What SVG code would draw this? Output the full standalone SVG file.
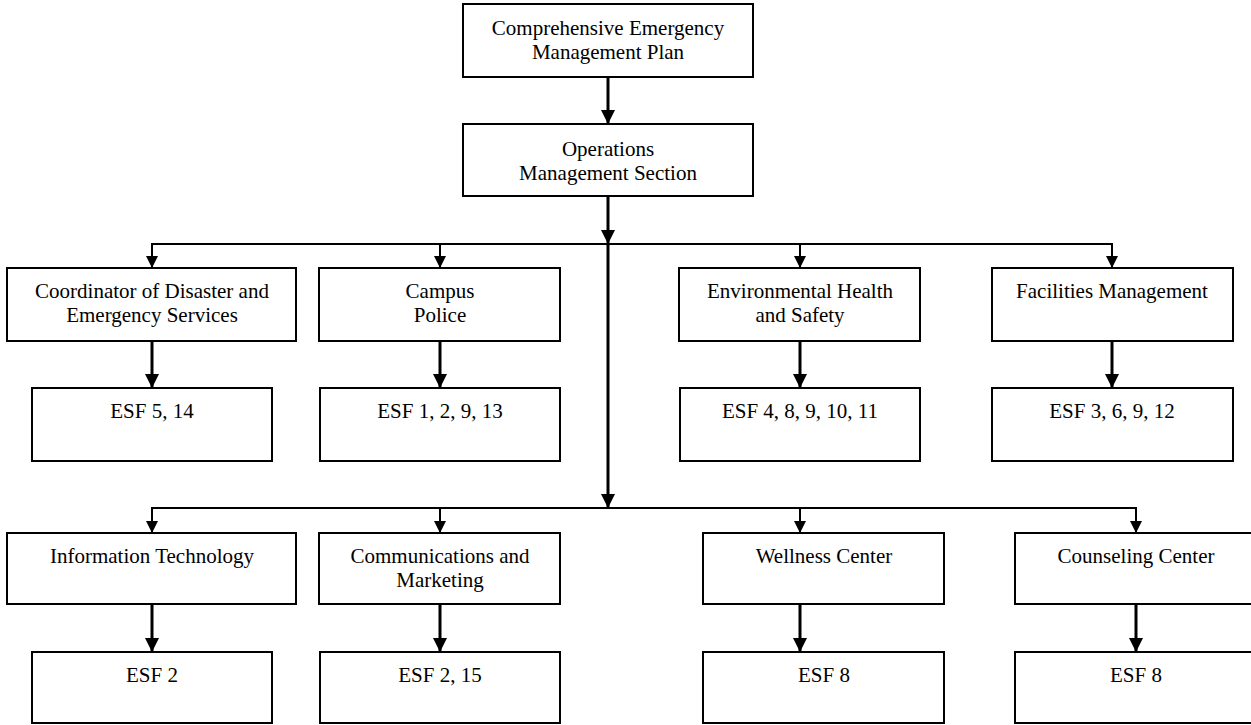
<svg xmlns="http://www.w3.org/2000/svg" width="1251" height="725" viewBox="0 0 1251 725">
<style>
.box{fill:#fff;stroke:#000;stroke-width:2}
.t{font-family:"Liberation Serif","Times New Roman",serif;font-size:21px;fill:#000;text-anchor:middle}
.thick{stroke:#000;stroke-width:3;fill:none}
.thin{stroke:#000;stroke-width:2;fill:none}
</style>
<defs>
<marker id="ab" markerUnits="userSpaceOnUse" markerWidth="16" markerHeight="16" refX="14" refY="7" orient="auto"><path d="M0,0 L14,7 L0,14 Z" fill="#000"/></marker>
<marker id="as" markerUnits="userSpaceOnUse" markerWidth="14" markerHeight="14" refX="12" refY="6" orient="auto"><path d="M0,0 L12,6 L0,12 Z" fill="#000"/></marker>
</defs>
<rect width="1251" height="725" fill="#fff"/>
<g id="connectors">
<line class="thick" x1="608" y1="77" x2="608" y2="124" marker-end="url(#ab)"/>
<line class="thick" x1="608" y1="196" x2="608" y2="244" marker-end="url(#ab)"/>
<line class="thin" x1="151" y1="244" x2="1113" y2="244"/>
<line class="thin" x1="152" y1="244" x2="152" y2="268" marker-end="url(#as)"/>
<line class="thin" x1="440" y1="244" x2="440" y2="268" marker-end="url(#as)"/>
<line class="thin" x1="800" y1="244" x2="800" y2="268" marker-end="url(#as)"/>
<line class="thin" x1="1112" y1="244" x2="1112" y2="268" marker-end="url(#as)"/>
<line class="thick" x1="608" y1="244" x2="608" y2="508" marker-end="url(#ab)"/>
<line class="thin" x1="151" y1="508" x2="1137" y2="508"/>
<line class="thin" x1="152" y1="508" x2="152" y2="533" marker-end="url(#as)"/>
<line class="thin" x1="440" y1="508" x2="440" y2="533" marker-end="url(#as)"/>
<line class="thin" x1="800" y1="508" x2="800" y2="533" marker-end="url(#as)"/>
<line class="thin" x1="1136" y1="508" x2="1136" y2="533" marker-end="url(#as)"/>
<line class="thick" x1="152" y1="341" x2="152" y2="388" marker-end="url(#ab)"/>
<line class="thick" x1="440" y1="341" x2="440" y2="388" marker-end="url(#ab)"/>
<line class="thick" x1="800" y1="341" x2="800" y2="388" marker-end="url(#ab)"/>
<line class="thick" x1="1112" y1="341" x2="1112" y2="388" marker-end="url(#ab)"/>
<line class="thick" x1="152" y1="604" x2="152" y2="652" marker-end="url(#ab)"/>
<line class="thick" x1="440" y1="604" x2="440" y2="652" marker-end="url(#ab)"/>
<line class="thick" x1="800" y1="604" x2="800" y2="652" marker-end="url(#ab)"/>
<line class="thick" x1="1136" y1="604" x2="1136" y2="652" marker-end="url(#ab)"/>
</g>
<g id="cemp"><rect class="box" x="463" y="4" width="290" height="73"/><text class="t" x="608" y="35">Comprehensive Emergency</text><text class="t" x="608" y="59">Management Plan</text></g>
<g id="oms"><rect class="box" x="463" y="124" width="290" height="72"/><text class="t" x="608" y="156">Operations</text><text class="t" x="608" y="180">Management Section</text></g>
<g id="coord"><rect class="box" x="7" y="268" width="289" height="73"/><text class="t" x="152" y="298">Coordinator of Disaster and</text><text class="t" x="152" y="322">Emergency Services</text></g>
<g id="police"><rect class="box" x="319" y="268" width="241" height="73"/><text class="t" x="440" y="298">Campus</text><text class="t" x="440" y="322">Police</text></g>
<g id="ehs"><rect class="box" x="679" y="268" width="241" height="73"/><text class="t" x="800" y="298">Environmental Health</text><text class="t" x="800" y="322">and Safety</text></g>
<g id="facilities"><rect class="box" x="992" y="268" width="241" height="73"/><text class="t" x="1112" y="298">Facilities Management</text></g>
<g id="esf-coord"><rect class="box" x="32" y="388" width="240" height="73"/><text class="t" x="152" y="418">ESF 5, 14</text></g>
<g id="esf-police"><rect class="box" x="320" y="388" width="240" height="73"/><text class="t" x="440" y="418">ESF 1, 2, 9, 13</text></g>
<g id="esf-ehs"><rect class="box" x="680" y="388" width="240" height="73"/><text class="t" x="800" y="418">ESF 4, 8, 9, 10, 11</text></g>
<g id="esf-facilities"><rect class="box" x="992" y="388" width="241" height="73"/><text class="t" x="1112" y="418">ESF 3, 6, 9, 12</text></g>
<g id="it"><rect class="box" x="7" y="533" width="289" height="71"/><text class="t" x="152" y="563">Information Technology</text></g>
<g id="comm"><rect class="box" x="319" y="533" width="241" height="71"/><text class="t" x="440" y="563">Communications and</text><text class="t" x="440" y="587">Marketing</text></g>
<g id="wellness"><rect class="box" x="703" y="533" width="241" height="71"/><text class="t" x="824" y="563">Wellness Center</text></g>
<g id="counseling"><rect class="box" x="1015" y="533" width="241" height="71"/><text class="t" x="1136" y="563">Counseling Center</text></g>
<g id="esf-it"><rect class="box" x="32" y="652" width="240" height="71"/><text class="t" x="152" y="682">ESF 2</text></g>
<g id="esf-comm"><rect class="box" x="320" y="652" width="240" height="71"/><text class="t" x="440" y="682">ESF 2, 15</text></g>
<g id="esf-wellness"><rect class="box" x="703" y="652" width="241" height="71"/><text class="t" x="824" y="682">ESF 8</text></g>
<g id="esf-counseling"><rect class="box" x="1015" y="652" width="241" height="71"/><text class="t" x="1136" y="682">ESF 8</text></g>
</svg>
